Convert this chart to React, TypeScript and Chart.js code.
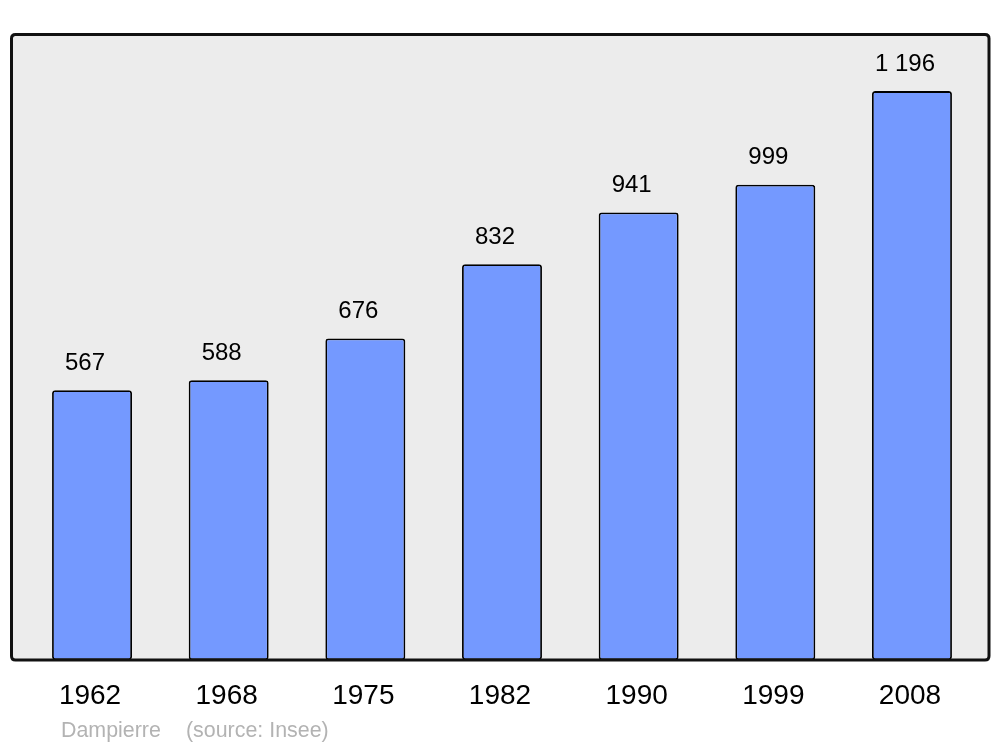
import React, { useEffect, useRef } from "react";
import { Chart, registerables } from "chart.js";

Chart.register(...registerables);

const years = ["1962", "1968", "1975", "1982", "1990", "1999", "2008"];
const population = [567, 588, 676, 832, 941, 999, 1196];
const valueLabels = ["567", "588", "676", "832", "941", "999", "1 196"];
const footerName = "Dampierre";
const footerSource = "(source: Insee)";

const FONT = '"Liberation Sans", Arial, sans-serif';

function roundRect(ctx: CanvasRenderingContext2D, x: number, y: number, w: number, h: number, r: number) {
  ctx.beginPath();
  ctx.moveTo(x + r, y);
  ctx.lineTo(x + w - r, y);
  ctx.quadraticCurveTo(x + w, y, x + w, y + r);
  ctx.lineTo(x + w, y + h - r);
  ctx.quadraticCurveTo(x + w, y + h, x + w - r, y + h);
  ctx.lineTo(x + r, y + h);
  ctx.quadraticCurveTo(x, y + h, x, y + h - r);
  ctx.lineTo(x, y + r);
  ctx.quadraticCurveTo(x, y, x + r, y);
  ctx.closePath();
}

const BOX = { left: 11.5, top: 34.5, right: 989, bottom: 660 };

const framePlugin = {
  id: "frame",
  beforeDatasetsDraw(chart: any) {
    const ctx = chart.ctx;
    ctx.save();
    roundRect(ctx, BOX.left, BOX.top, BOX.right - BOX.left, BOX.bottom - BOX.top, 4);
    ctx.fillStyle = "#ececec";
    ctx.fill();
    ctx.restore();
  },
  afterDatasetsDraw(chart: any) {
    const ctx = chart.ctx;
    ctx.save();
    roundRect(ctx, BOX.left, BOX.top, BOX.right - BOX.left, BOX.bottom - BOX.top, 4);
    ctx.lineWidth = 3;
    ctx.strokeStyle = "#111111";
    ctx.stroke();

    const meta = chart.getDatasetMeta(0);
    const xScale = chart.scales.x;
    ctx.fillStyle = "#000000";
    ctx.textAlign = "center";
    ctx.textBaseline = "middle";
    ctx.font = `24px ${FONT}`;
    meta.data.forEach((bar: any, i: number) => {
      ctx.fillText(valueLabels[i], bar.x - 7, bar.y - 27);
    });
    ctx.font = `28px ${FONT}`;
    years.forEach((y, i) => {
      ctx.fillText(y, xScale.getPixelForValue(i) - 2, 696);
    });
    ctx.fillStyle = "#b3b3b3";
    ctx.textAlign = "left";
    ctx.font = `21.4px ${FONT}`;
    ctx.fillText(footerName, 61, 731);
    ctx.fillText(footerSource, 186, 731);
    ctx.restore();
  },
};

export default function App() {
  const ref = useRef<HTMLCanvasElement>(null);
  useEffect(() => {
    if (!ref.current) return;
    const chart = new Chart(ref.current, {
      type: "bar",
      data: {
        labels: years,
        datasets: [
          {
            data: population,
            backgroundColor: "#7499ff",
            borderColor: "#000000",
            borderWidth: 1.8,
            borderRadius: 3,
            borderSkipped: false,
            barPercentage: 0.585,
            categoryPercentage: 1,
          },
        ],
      },
      options: {
        animation: false,
        responsive: false,
        layout: { padding: { left: 23.7, right: 19.7, top: 34, bottom: 87 } },
        plugins: { legend: { display: false }, tooltip: { enabled: false } },
        scales: {
          x: { display: false },
          y: { display: false, min: 0, max: 1316 },
        },
      },
      plugins: [framePlugin],
    });
    return () => chart.destroy();
  }, []);
  return (
    <div style={{ position: "fixed", left: 0, top: 0, width: 1000, height: 747, background: "#ffffff" }}>
      <canvas ref={ref} width={1000} height={747} style={{ width: 1000, height: 747 }} />
    </div>
  );
}
